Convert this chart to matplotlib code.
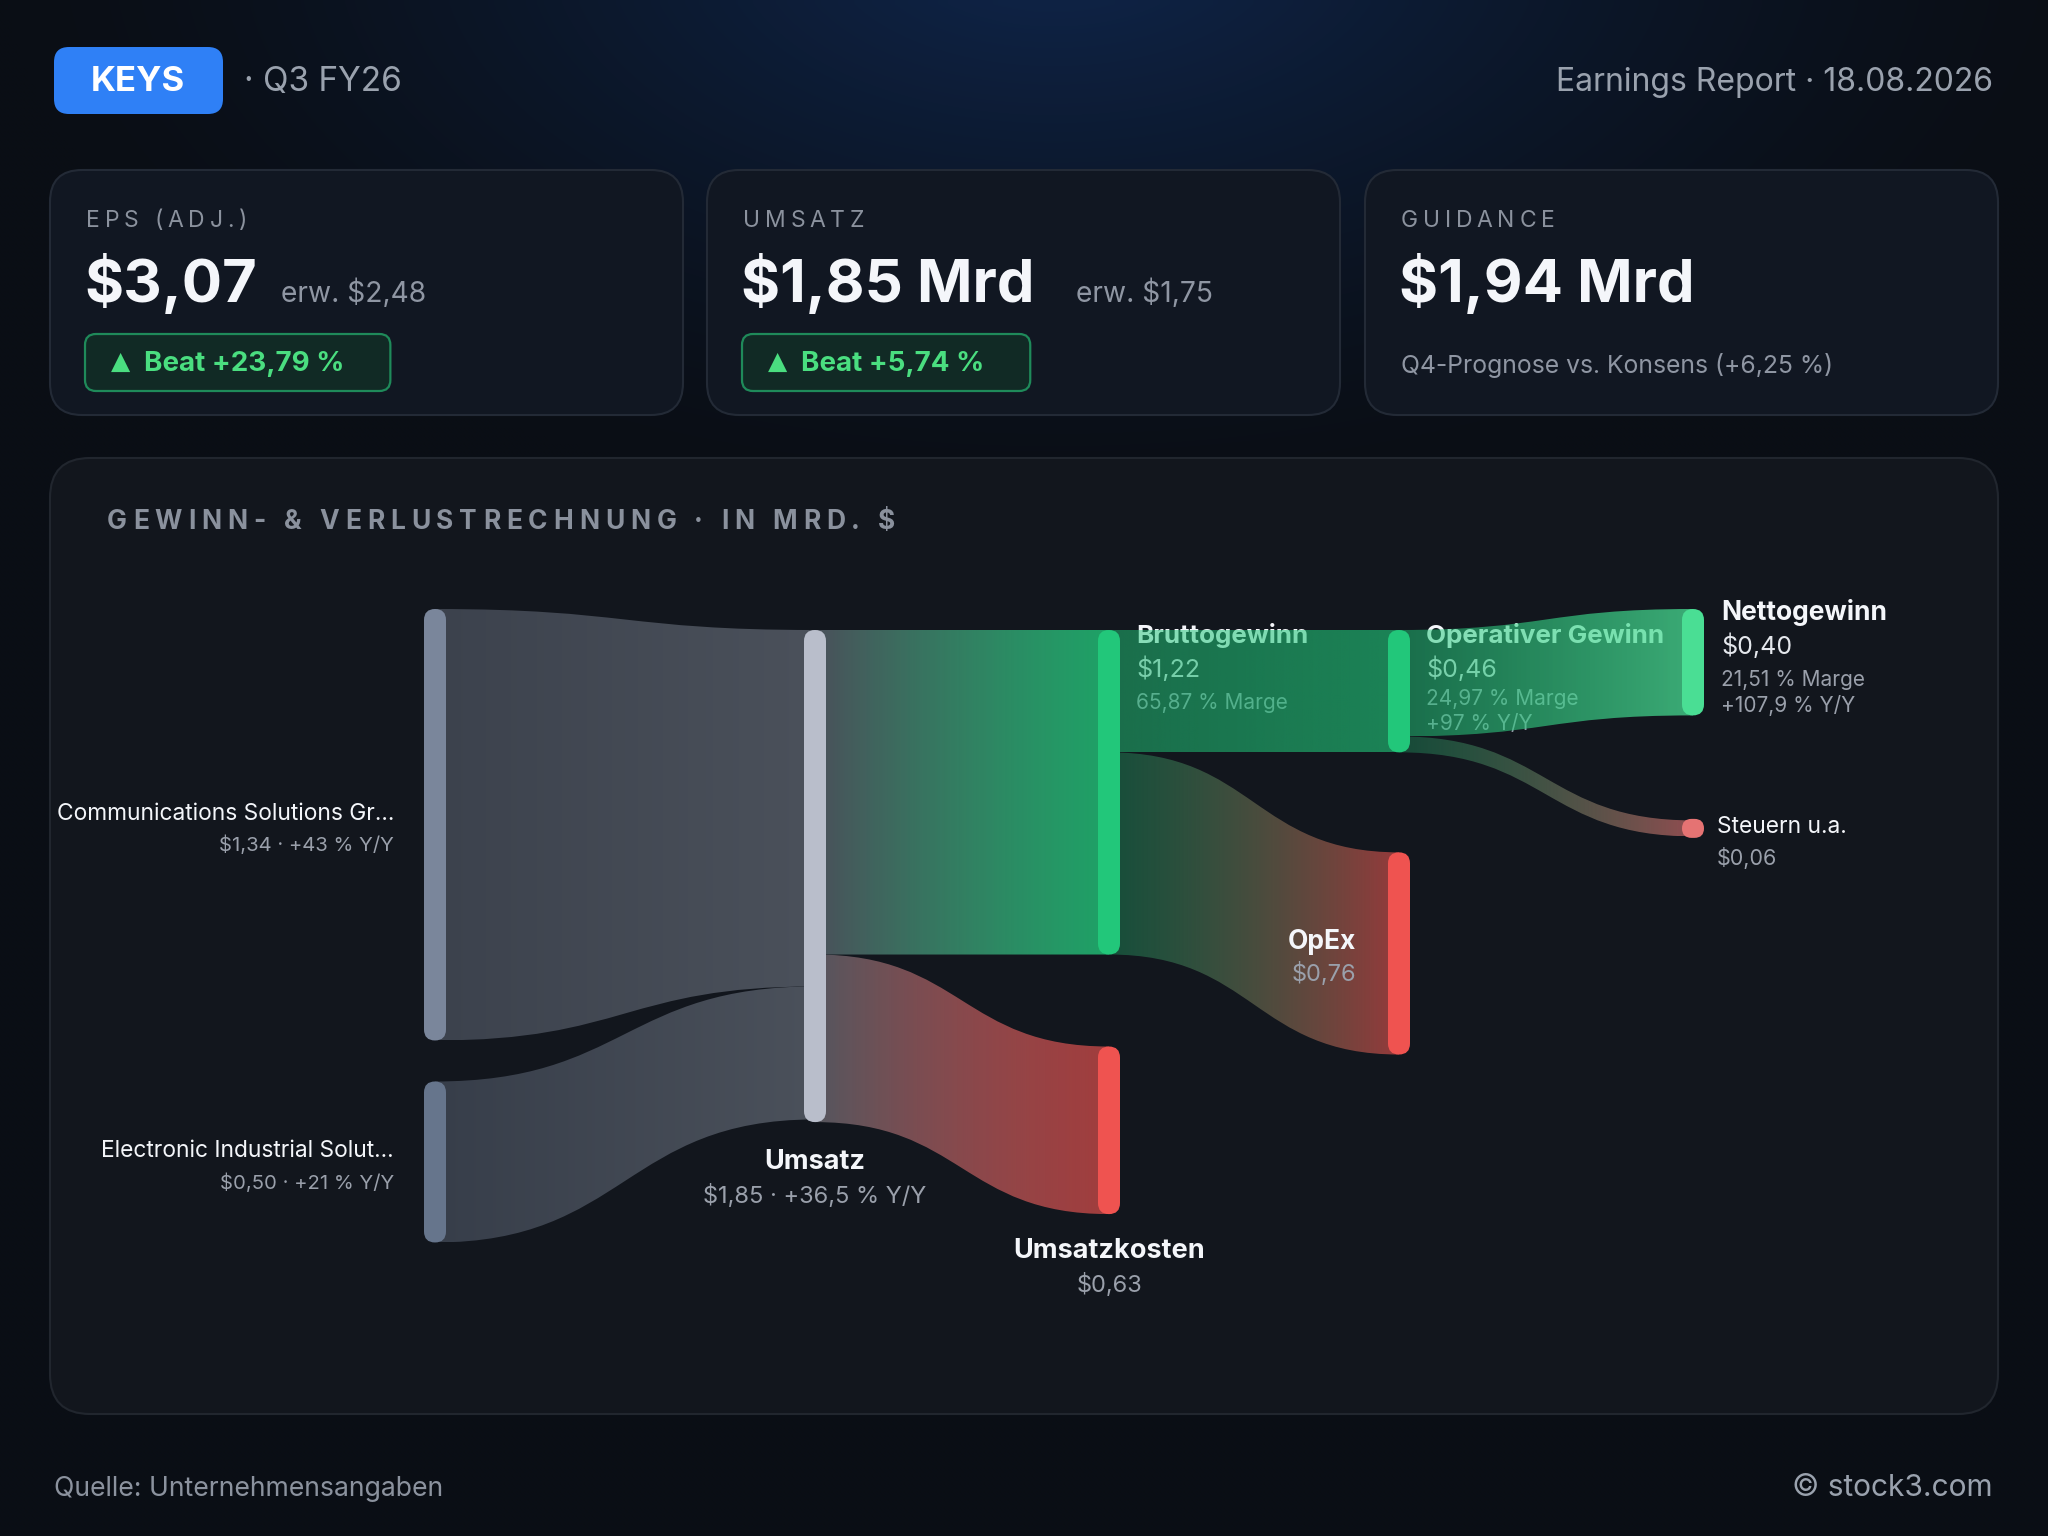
import numpy as np
import matplotlib
matplotlib.use('Agg')
import matplotlib.pyplot as plt
import matplotlib.colors as mcolors
from matplotlib.patches import FancyBboxPatch, PathPatch
from matplotlib.path import Path

plt.rcParams['font.family'] = ['Inter', 'DejaVu Sans']

# ---- data ----
kpi_labels = ['EPS (ADJ.)', 'UMSATZ', 'GUIDANCE']
kpi_values = ['$3,07', '$1,85 Mrd', '$1,94 Mrd']
kpi_expected = ['erw. $2,48', 'erw. $1,75', '']
kpi_beats = ['Beat +23,79 %', 'Beat +5,74 %', '']
guidance_note = 'Q4-Prognose vs. Konsens (+6,25 %)'

node_names = ['Communications Solutions Gr...', 'Electronic Industrial Solut...', 'Umsatz',
              'Bruttogewinn', 'Umsatzkosten', 'Operativer Gewinn', 'OpEx', 'Nettogewinn', 'Steuern u.a.']
node_values = [1.34, 0.50, 1.85, 1.22, 0.63, 0.46, 0.76, 0.40, 0.06]
node_value_labels = ['$1,34 · +43 % Y/Y', '$0,50 · +21 % Y/Y', '$1,85 · +36,5 % Y/Y', '$1,22', '$0,63',
                     '$0,46', '$0,76', '$0,40', '$0,06']
node_margin = ['', '', '', '65,87 % Marge', '', '24,97 % Marge', '', '21,51 % Marge', '']
node_yoy = ['', '', '', '', '', '+97 % Y/Y', '', '+107,9 % Y/Y', '']
node_column = [0, 0, 1, 2, 2, 3, 3, 4, 4]
node_colors = ['#7a869b', '#66758c', '#b9becb', '#22c77a', '#ef5350', '#22c77a', '#ef5350', '#4ade94', '#e57373']

link_src = [0, 1, 2, 2, 3, 3, 5, 5]
link_tgt = [2, 2, 3, 4, 5, 6, 7, 8]
link_val = [1.34, 0.50, 1.22, 0.63, 0.46, 0.76, 0.40, 0.06]

# ---- layout / style (pixels) ----
W, H = 2048, 1536
col_x = [435, 815, 1109, 1399, 1693]
col_top = [609, 630, 630, 630, 609]
col_gap = [41, 0, 92, 100, 105]
col_scale = [322, 266, 266, 266, 266]
node_w = 22
min_node_h = 19
# link colours: (left colour, left alpha, right colour, right alpha)
link_style = [('#3c424d', 1, '#4b515b', 1),
              ('#373e4a', 1, '#4b515b', 1),
              ('#4b515b', 1, '#22c77a', 0.8),
              ('#55575f', 1, '#ef5350', 0.65),
              ('#22c77a', 0.5, '#22c77a', 0.62),
              ('#22c77a', 0.32, '#ef5350', 0.6),
              ('#22c77a', 0.5, '#4ade94', 0.75),
              ('#22c77a', 0.3, '#e57373', 0.6)]

BG = '#0a0e15'
WHITE = '#f4f6fa'
GRAY = '#8b929e'

fig = plt.figure(figsize=(W / 100, H / 100), dpi=100, facecolor=BG)
ax = fig.add_axes([0, 0, 1, 1])
ax.set_xlim(0, W)
ax.set_ylim(H, 0)
ax.axis('off')
ax.set_autoscale_on(False)
renderer = fig.canvas.get_renderer()

# background glow at the top
gy, gx = np.mgrid[0:H:8, 0:W:8]
d = np.sqrt(((gx - 1050) / 1050.0) ** 2 + ((gy + 60) / 560.0) ** 2)
t = np.clip(1 - d, 0, 1) ** 1.4
c0 = np.array(mcolors.to_rgb(BG))
c1 = np.array(mcolors.to_rgb('#0f264c'))
bg_img = c0[None, None, :] + t[..., None] * (c1 - c0)[None, None, :]
ax.imshow(bg_img, extent=[0, W, H, 0], aspect='auto', interpolation='bilinear', zorder=0)


def rbox(x, y, w, h, r, fc, ec='none', lw=0, z=1):
    p = FancyBboxPatch((x, y), w, h, boxstyle=f'round,pad=0,rounding_size={r}',
                       fc=fc, ec=ec, lw=lw, zorder=z)
    ax.add_patch(p)
    return p


def text_width(s, **kw):
    tt = ax.text(0, 0, s, **kw)
    w = tt.get_window_extent(renderer=renderer).width
    tt.remove()
    return w


def spaced(x, y, s, spacing, **kw):
    space_w = text_width('a a', **kw) - text_width('aa', **kw)
    for ch in s:
        if ch == ' ':
            x += space_w + spacing
            continue
        tt = ax.text(x, y, ch, ha='left', va='center', **kw)
        x += tt.get_window_extent(renderer=renderer).width + spacing


def grad_fill(patch, x0, x1, style, z):
    ca, aa, cb, ab = style
    ra = np.array(mcolors.to_rgba(ca, aa))
    rb = np.array(mcolors.to_rgba(cb, ab))
    tt = np.linspace(0, 1, 256)[:, None]
    arr = ((1 - tt) * ra + tt * rb)[None, :, :]
    ys = patch.get_path().vertices[:, 1]
    im = ax.imshow(arr, extent=[x0, x1, ys.max(), ys.min()], aspect='auto',
                   interpolation='bilinear', zorder=z)
    im.set_clip_path(patch)


# ---- header ----
rbox(54, 47, 169, 67, 15, '#2f80f6', z=2)
ax.text(138, 82, 'KEYS', color='white', fontsize=25, fontweight='bold', ha='center', va='center', zorder=3)
ax.text(244, 82, '· Q3 FY26', color='#9aa2ae', fontsize=24, ha='left', va='center', zorder=3)
ax.text(1993, 82, 'Earnings Report · 18.08.2026', color='#9aa2ae', fontsize=23, ha='right', va='center', zorder=3)

# ---- KPI cards ----
card_x = [50, 707, 1365]
card_w = 633
erw_x = [281, 1076]
for i in range(3):
    rbox(card_x[i], 170, card_w, 245, 32, '#111722', ec='#232a36', lw=1.5, z=1)
    lx = card_x[i] + 36
    spaced(lx, 221, kpi_labels[i], 4.8, color=GRAY, fontsize=16.5, zorder=3)
    ax.text(lx - 2, 283, kpi_values[i], color=WHITE, fontsize=43, fontweight='bold',
            ha='left', va='center', zorder=3)
    if kpi_expected[i]:
        ax.text(erw_x[i], 293, kpi_expected[i], color='#8f96a3', fontsize=20.3,
                ha='left', va='center', zorder=3)
    if kpi_beats[i]:
        tw = text_width(kpi_beats[i], fontsize=20, fontweight='bold')
        rbox(lx - 1, 334, 59 + tw + 46, 57, 11, '#112a25', ec='#1f8a5a', lw=1.6, z=2)
        ax.text(lx + 25, 362, '▲', color='#4ade80', fontsize=18, family='DejaVu Sans',
                ha='left', va='center', zorder=3)
        ax.text(lx + 58, 364, kpi_beats[i], color='#4ade80', fontsize=20, fontweight='bold',
                ha='left', va='center', zorder=3)
ax.text(card_x[2] + 36, 365, guidance_note, color='#8f96a3', fontsize=17.8, ha='left', va='center', zorder=3)

# ---- main panel ----
rbox(50, 458, 1948, 956, 40, '#12161d', ec='#21262e', lw=1.5, z=1)
spaced(107, 522, 'GEWINN- & VERLUSTRECHNUNG · IN MRD. $', 5.9, color='#8a919d',
       fontsize=19, fontweight='bold', zorder=3)

# ---- sankey layout ----
node_top = [0.0] * len(node_values)
node_h = [0.0] * len(node_values)
cursor = list(col_top)
for i, v in enumerate(node_values):
    c = node_column[i]
    node_h[i] = v * col_scale[c]
    node_top[i] = cursor[c]
    cursor[c] += node_h[i] + col_gap[c]

out_off = [0.0] * len(node_values)
in_off = [0.0] * len(node_values)
for k in range(len(link_val)):
    s, g = link_src[k], link_tgt[k]
    cs, cg = node_column[s], node_column[g]
    x0, x1 = col_x[cs], col_x[cg]
    y0t = node_top[s] + out_off[s]
    y0b = y0t + link_val[k] * col_scale[cs]
    y1t = node_top[g] + in_off[g]
    y1b = y1t + link_val[k] * col_scale[cg]
    out_off[s] += link_val[k] * col_scale[cs]
    in_off[g] += link_val[k] * col_scale[cg]
    xm = (x0 + x1) / 2
    verts = [(x0, y0t), (xm, y0t), (xm, y1t), (x1, y1t), (x1, y1b),
             (xm, y1b), (xm, y0b), (x0, y0b), (x0, y0t)]
    codes = [Path.MOVETO, Path.CURVE4, Path.CURVE4, Path.CURVE4, Path.LINETO,
             Path.CURVE4, Path.CURVE4, Path.CURVE4, Path.CLOSEPOLY]
    patch = PathPatch(Path(verts, codes), fc='none', ec='none', zorder=4)
    ax.add_patch(patch)
    grad_fill(patch, x0, x1, link_style[k], 4)

for i in range(len(node_values)):
    cx = col_x[node_column[i]]
    h = max(node_h[i], min_node_h)
    top = node_top[i] + node_h[i] / 2 - h / 2
    rbox(cx - node_w / 2, top, node_w, h, min(node_w / 2, h / 2), node_colors[i], z=6)

# ---- sankey labels ----
name_kw = dict(color=WHITE, fontweight='bold', fontsize=19, zorder=7)
sub_kw = dict(color='#9aa0ab', fontsize=17, zorder=7)
for i in (0, 1):
    cy = node_top[i] + node_h[i] / 2
    xr = col_x[0] - node_w / 2 - 30
    ax.text(xr, cy - 11, node_names[i], color=WHITE, fontsize=16.4, ha='right', va='center', zorder=7)
    ax.text(xr, cy + 21, node_value_labels[i], color='#9aa0ab', fontsize=14.6, ha='right', va='center', zorder=7)

# Umsatz and Umsatzkosten: below node
for i, dy in ((2, 40), (4, 37)):
    cx = col_x[node_column[i]]
    yb = node_top[i] + node_h[i]
    ax.text(cx, yb + dy, node_names[i], ha='center', va='center',
            **dict(name_kw, fontsize=19.5))
    ax.text(cx, yb + dy + 34, node_value_labels[i], ha='center', va='center', **sub_kw)

# OpEx: left of node
i = 6
cy = node_top[i] + node_h[i] / 2
xr = col_x[3] - node_w / 2 - 32
ax.text(xr, cy - 11, node_names[i], ha='right', va='center', **name_kw)
ax.text(xr, cy + 21, node_value_labels[i], ha='right', va='center', **sub_kw)

# labels drawn under the links (tinted by them)
for i in (3, 5):
    x = col_x[node_column[i]] + node_w / 2 + 16
    y = node_top[i] + 5
    ax.text(x, y, node_names[i], color=WHITE, fontsize=18.7, fontweight='bold', ha='left', va='center', zorder=3)
    ax.text(x, y + 34, node_value_labels[i], color='#d5d9e0', fontsize=18, ha='left', va='center', zorder=3)
    ax.text(x, y + 68 - (4 if node_yoy[i] else 0), node_margin[i], color='#8f96a3', fontsize=15,
            ha='left', va='center', zorder=3)
    if node_yoy[i]:
        ax.text(x, y + 89, node_yoy[i], color='#8f96a3', fontsize=15, ha='left', va='center', zorder=3)

# Nettogewinn
i = 7
x = col_x[4] + node_w / 2 + 17
y = node_top[i] + 3
ax.text(x, y, node_names[i], ha='left', va='center', **name_kw)
ax.text(x, y + 34, node_value_labels[i], color='#e4e7ec', fontsize=18, ha='left', va='center', zorder=7)
ax.text(x, y + 68, node_margin[i], color='#9aa0ab', fontsize=15, ha='left', va='center', zorder=7)
ax.text(x, y + 94, node_yoy[i], color='#9aa0ab', fontsize=15, ha='left', va='center', zorder=7)

# Steuern
i = 8
x = col_x[4] + node_w / 2 + 13
cy = node_top[i] + node_h[i] / 2
ax.text(x, cy - 1, node_names[i], color=WHITE, fontsize=16.4, ha='left', va='center', zorder=7)
ax.text(x, cy + 30, node_value_labels[i], color='#9aa0ab', fontsize=15.5, ha='left', va='center', zorder=7)

# ---- footer ----
ax.text(54, 1489, 'Quelle: Unternehmensangaben', color=GRAY, fontsize=19.2, ha='left', va='center')
ax.text(1993, 1488, '© stock3.com', color='#9aa2ae', fontsize=21.5, ha='right', va='center')

fig.savefig('out.png', dpi=100, facecolor=BG)
